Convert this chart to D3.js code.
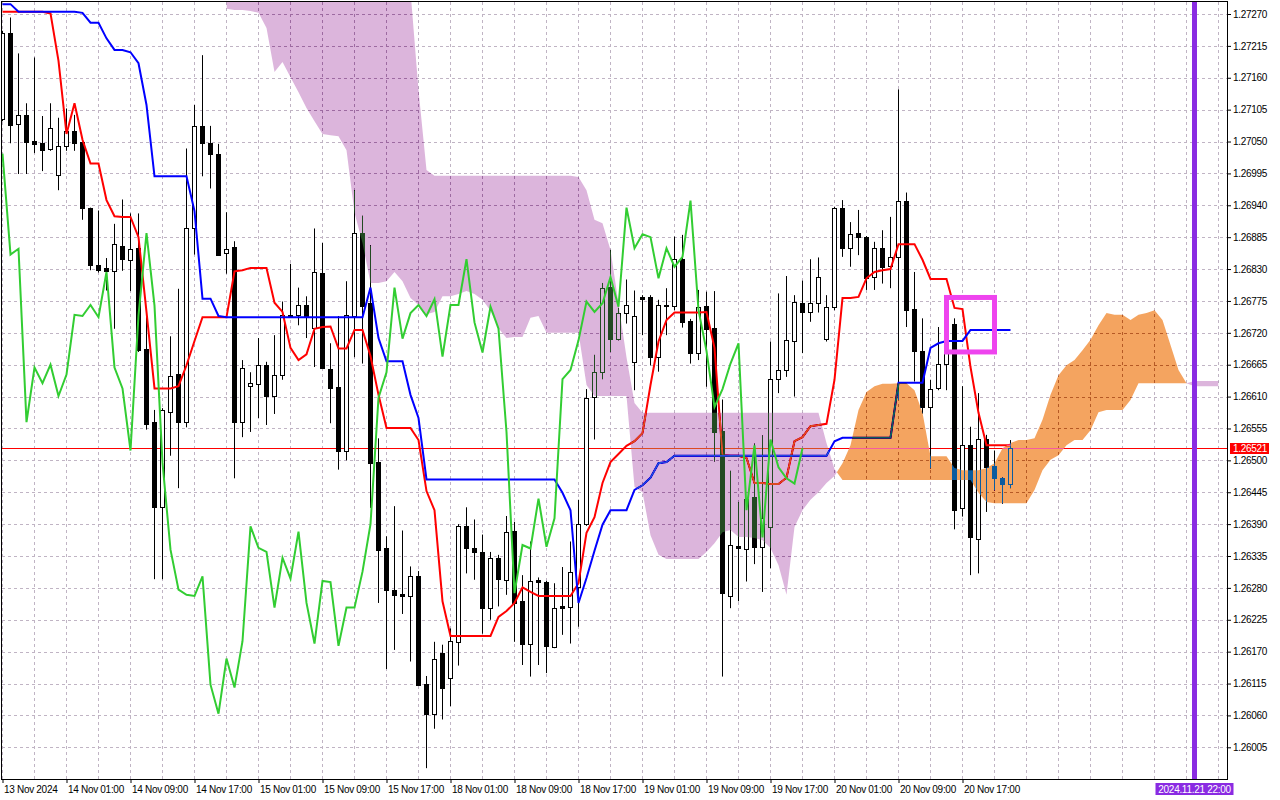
<!DOCTYPE html>
<html><head><meta charset="utf-8">
<script src="https://cdn.jsdelivr.net/npm/d3@7"></script>
<style>
html,body{margin:0;padding:0;background:#fff;overflow:hidden;}
svg{display:block;font-family:"Liberation Sans",Arial,sans-serif;}
</style></head><body>
<svg id="chart" width="1280" height="800"></svg>
<script>
// ---------- data (GBPUSD H1, Ichimoku) ----------
const xTickBars = [0,8,16,24,32,40,48,56,64,72,80,88,96,104,112,120];
const xTickLabels = ["13 Nov 2024","14 Nov 01:00","14 Nov 09:00","14 Nov 17:00","15 Nov 01:00","15 Nov 09:00","15 Nov 17:00","18 Nov 01:00","18 Nov 09:00","18 Nov 17:00","19 Nov 01:00","19 Nov 09:00","19 Nov 17:00","20 Nov 01:00","20 Nov 09:00","20 Nov 17:00"];
const yTicks = [1.27270,1.27215,1.27160,1.27105,1.27050,1.26995,1.26940,1.26885,1.26830,1.26775,1.26720,1.26665,1.26610,1.26555,1.26500,1.26445,1.26390,1.26335,1.26280,1.26225,1.26170,1.26115,1.26060,1.26005];

const open = [1.27089,1.27237,1.27080,1.27096,1.27051,1.27047,1.27037,1.26993,1.27043,1.27068,
1.27049,1.26935,1.26837,1.26831,1.26827,1.26870,1.26846,1.26867,1.26692,1.26566,
1.26419,1.26583,1.26649,1.26566,1.26900,1.27076,1.27047,1.27029,1.26857,1.26868,
1.26566,1.26629,1.26631,1.26665,1.26611,1.26648,1.26750,1.26751,1.26768,1.26728,
1.26824,1.26658,1.26626,1.26517,1.26749,1.26892,1.26772,1.26498,1.26349,1.26277,
1.26269,1.26266,1.26300,1.26115,1.26063,1.26168,1.26124,1.26187,1.26386,1.26349,
1.26342,1.26246,1.26332,1.26294,1.26378,1.26257,1.26183,1.26294,1.26291,1.26178,
1.26249,1.26247,1.26282,1.26390,1.26610,1.26652,1.26799,1.26709,1.26754,1.26669,
1.26782,1.26782,1.26679,1.26767,1.26767,1.26847,1.26740,1.26686,1.26766,1.26729,
1.26551,1.26266,1.26352,1.26347,1.26437,1.26351,1.26385,1.26641,1.26656,1.26706,
1.26772,1.26756,1.26771,1.26710,1.26765,1.26936,1.26866,1.26892,1.26885,1.26816,
1.26866,1.26835,1.26851,1.26947,1.26761,1.26689,1.26592,1.26624,1.26666,1.26736,
1.26417,1.26526,1.26365,1.26536,1.26490,1.26469,1.26460];
const high = [1.27241,1.27264,1.27202,1.27116,1.27195,1.27094,1.27116,1.27091,1.27107,1.27096,
1.27050,1.26936,1.26931,1.26849,1.26908,1.26950,1.26926,1.26926,1.26747,1.26587,
1.26590,1.26714,1.26796,1.27038,1.27113,1.27199,1.27077,1.27046,1.26928,1.26878,
1.26673,1.26652,1.26711,1.26670,1.26716,1.26774,1.26839,1.26798,1.26783,1.26900,
1.26875,1.26702,1.26749,1.26809,1.26966,1.26922,1.26871,1.26538,1.26369,1.26421,
1.26379,1.26317,1.26309,1.26128,1.26187,1.26182,1.26210,1.26390,1.26419,1.26398,
1.26372,1.26342,1.26337,1.26404,1.26394,1.26302,1.26360,1.26298,1.26292,1.26288,
1.26316,1.26360,1.26432,1.26623,1.26682,1.26806,1.26863,1.26763,1.26812,1.26793,
1.26785,1.26785,1.26777,1.26797,1.26886,1.26889,1.26744,1.26794,1.26791,1.26792,
1.26605,1.26482,1.26428,1.26435,1.26529,1.26543,1.26705,1.26788,1.26818,1.26785,
1.26810,1.26847,1.26850,1.26785,1.26937,1.26949,1.26911,1.26932,1.26887,1.26877,
1.26897,1.26920,1.27140,1.26962,1.26825,1.26745,1.26639,1.26730,1.26759,1.26745,
1.26628,1.26558,1.26616,1.26544,1.26517,1.26471,1.26535];
const low = [1.27085,1.27047,1.26994,1.26994,1.27030,1.26999,1.27034,1.26966,1.27034,1.27034,
1.26915,1.26828,1.26824,1.26793,1.26727,1.26827,1.26792,1.26687,1.26553,1.26295,
1.26295,1.26508,1.26452,1.26557,1.26855,1.26990,1.26969,1.26854,1.26822,1.26469,
1.26540,1.26549,1.26573,1.26561,1.26580,1.26639,1.26747,1.26733,1.26711,1.26661,
1.26659,1.26564,1.26484,1.26500,1.26678,1.26667,1.26418,1.26254,1.26140,1.26173,
1.26235,1.26153,1.26111,1.25969,1.26037,1.26053,1.26076,1.26146,1.26305,1.26294,
1.26201,1.26225,1.26248,1.26268,1.26187,1.26147,1.26127,1.26147,1.26133,1.26176,
1.26199,1.26184,1.26213,1.26387,1.26536,1.26640,1.26687,1.26707,1.26736,1.26621,
1.26716,1.26664,1.26653,1.26716,1.26759,1.26729,1.26667,1.26673,1.26627,1.26498,
1.26127,1.26245,1.26257,1.26291,1.26321,1.26273,1.26314,1.26616,1.26644,1.26610,
1.26685,1.26739,1.26755,1.26705,1.26759,1.26851,1.26834,1.26854,1.26794,1.26794,
1.26805,1.26797,1.26604,1.26730,1.26636,1.26581,1.26486,1.26621,1.26621,1.26381,
1.26403,1.26302,1.26305,1.26411,1.26448,1.26425,1.26452];
const close = [1.27237,1.27078,1.27096,1.27050,1.27045,1.27036,1.27073,1.27043,1.27068,1.27048,
1.26936,1.26837,1.26829,1.26826,1.26873,1.26847,1.26865,1.26691,1.26563,1.26419,
1.26587,1.26646,1.26566,1.26900,1.27076,1.27047,1.27029,1.26855,1.26865,1.26566,
1.26660,1.26633,1.26665,1.26611,1.26648,1.26751,1.26749,1.26768,1.26747,1.26825,
1.26660,1.26624,1.26517,1.26750,1.26892,1.26767,1.26496,1.26346,1.26277,1.26268,
1.26266,1.26300,1.26113,1.26063,1.26158,1.26108,1.26188,1.26386,1.26349,1.26342,
1.26246,1.26332,1.26296,1.26377,1.26254,1.26184,1.26292,1.26290,1.26180,1.26246,
1.26246,1.26308,1.26390,1.26608,1.26652,1.26798,1.26710,1.26754,1.26768,1.26749,
1.26778,1.26679,1.26768,1.26768,1.26847,1.26738,1.26686,1.26765,1.26727,1.26549,
1.26271,1.26354,1.26348,1.26434,1.26351,1.26400,1.26640,1.26656,1.26707,1.26774,
1.26756,1.26771,1.26816,1.26765,1.26936,1.26866,1.26890,1.26885,1.26814,1.26866,
1.26834,1.26851,1.26948,1.26759,1.26689,1.26592,1.26623,1.26667,1.26702,1.26414,
1.26526,1.26367,1.26536,1.26488,1.26469,1.26460,1.26521];
const tenkan = [1.27274,1.27274,1.27274,1.27274,1.27274,1.27274,1.27271,1.27189,1.27063,1.27116,
1.27053,1.27012,1.27012,1.26949,1.26921,1.26920,1.26920,1.26885,1.26756,1.26624,
1.26624,1.26624,1.26628,1.26664,1.26706,1.26747,1.26747,1.26747,1.26747,1.26826,
1.26828,1.26832,1.26832,1.26832,1.26772,1.26756,1.26694,1.26673,1.26683,1.26727,
1.26730,1.26731,1.26693,1.26693,1.26725,1.26725,1.26680,1.26613,1.26556,1.26556,
1.26556,1.26556,1.26535,1.26447,1.26414,1.26257,1.26197,1.26197,1.26197,1.26197,
1.26197,1.26197,1.26230,1.26240,1.26254,1.26281,1.26273,1.26266,1.26266,1.26266,
1.26266,1.26266,1.26288,1.26375,1.26402,1.26461,1.26497,1.26511,1.26525,1.26533,
1.26547,1.26630,1.26705,1.26742,1.26755,1.26755,1.26755,1.26755,1.26756,1.26694,
1.26509,1.26508,1.26508,1.26504,1.26461,1.26461,1.26459,1.26459,1.26470,1.26533,
1.26540,1.26559,1.26561,1.26563,1.26639,1.26780,1.26780,1.26782,1.26814,1.26825,
1.26828,1.26830,1.26873,1.26873,1.26873,1.26846,1.26813,1.26813,1.26813,1.26763,
1.26761,1.26661,1.26582,1.26526,1.26526,1.26526,1.26526];
const kijun = [1.27287,1.27287,1.27274,1.27274,1.27274,1.27274,1.27274,1.27274,1.27274,1.27274,
1.27272,1.27255,1.27255,1.27228,1.27208,1.27208,1.27204,1.27185,1.27113,1.26990,
1.26990,1.26990,1.26990,1.26990,1.26930,1.26779,1.26779,1.26749,1.26747,1.26747,
1.26747,1.26747,1.26747,1.26747,1.26747,1.26747,1.26747,1.26747,1.26747,1.26747,
1.26747,1.26747,1.26747,1.26747,1.26747,1.26747,1.26798,1.26711,1.26671,1.26671,
1.26671,1.26613,1.26573,1.26467,1.26467,1.26467,1.26467,1.26467,1.26467,1.26467,
1.26467,1.26467,1.26467,1.26467,1.26467,1.26467,1.26467,1.26467,1.26467,1.26467,
1.26444,1.26414,1.26254,1.26297,1.26344,1.26389,1.26414,1.26414,1.26414,1.26449,
1.26457,1.26470,1.26495,1.26497,1.26508,1.26508,1.26508,1.26508,1.26508,1.26508,
1.26508,1.26508,1.26508,1.26508,1.26508,1.26508,1.26508,1.26508,1.26508,1.26508,
1.26508,1.26508,1.26508,1.26508,1.26533,1.26539,1.26539,1.26539,1.26539,1.26539,
1.26539,1.26539,1.26634,1.26634,1.26634,1.26634,1.26694,1.26702,1.26706,1.26706,
1.26706,1.26725,1.26725,1.26725,1.26725,1.26725,1.26725];
// Senkou spans start at bar 28 and run 26 bars past the last candle
const cloudStartBar = 28;
const spanA = [1.27279,1.27277,1.27277,1.27275,1.27272,1.27246,1.27170,1.27187,1.27161,1.27135,
1.27108,1.27085,1.27063,1.27061,1.27059,1.27035,1.26927,1.26875,1.26806,1.26806,
1.26809,1.26825,1.26809,1.26780,1.26768,1.26752,1.26756,1.26783,1.26783,1.26787,
1.26792,1.26787,1.26777,1.26758,1.26728,1.26711,1.26713,1.26713,1.26746,1.26749,
1.26720,1.26720,1.26720,1.26720,1.26720,1.26630,1.26611,1.26611,1.26611,1.26611,
1.26611,1.26454,1.26445,1.26371,1.26337,1.26330,1.26330,1.26330,1.26330,1.26330,
1.26342,1.26357,1.26376,1.26380,1.26368,1.26368,1.26366,1.26362,1.26349,1.26319,
1.26268,1.26385,1.26414,1.26432,1.26445,1.26461,1.26473,1.26495,1.26526,1.26587,
1.26618,1.26628,1.26632,1.26632,1.26633,1.26633,1.26621,1.26582,1.26507,1.26507,
1.26507,1.26487,1.26483,1.26483,1.26483,1.26487,1.26495,1.26521,1.26530,1.26535,
1.26535,1.26538,1.26570,1.26613,1.26647,1.26664,1.26673,1.26690,1.26708,1.26733,
1.26754,1.26751,1.26751,1.26742,1.26751,1.26754,1.26759,1.26742,1.26699,1.26656,
1.26633,1.26628,1.26628,1.26628,1.26628];
const spanB = [1.27310,1.27310,1.27310,1.27310,1.27310,1.27310,1.27310,1.27310,1.27310,1.27310,
1.27310,1.27310,1.27310,1.27310,1.27310,1.27310,1.27310,1.27310,1.27310,1.27310,
1.27310,1.27310,1.27310,1.27310,1.27139,1.27001,1.26991,1.26991,1.26991,1.26991,
1.26991,1.26991,1.26991,1.26991,1.26991,1.26991,1.26991,1.26991,1.26991,1.26991,
1.26991,1.26991,1.26991,1.26991,1.26989,1.26966,1.26915,1.26909,1.26863,1.26771,
1.26678,1.26599,1.26582,1.26582,1.26582,1.26582,1.26582,1.26582,1.26582,1.26582,
1.26582,1.26582,1.26582,1.26582,1.26582,1.26582,1.26582,1.26582,1.26582,1.26582,
1.26582,1.26582,1.26582,1.26582,1.26582,1.26530,1.26485,1.26466,1.26466,1.26466,
1.26466,1.26466,1.26466,1.26466,1.26466,1.26466,1.26466,1.26466,1.26466,1.26466,
1.26466,1.26466,1.26466,1.26466,1.26444,1.26428,1.26426,1.26426,1.26426,1.26426,
1.26426,1.26449,1.26483,1.26501,1.26509,1.26526,1.26535,1.26535,1.26552,1.26583,
1.26587,1.26587,1.26587,1.26604,1.26633,1.26633,1.26633,1.26633,1.26633,1.26633,
1.26633,1.26637,1.26637,1.26637,1.26637];
const chikouShift = 26;                 // lagging span = close plotted 26 bars back
const chikou = close.slice(chikouShift);
const bidPrice = 1.26521;
const markerBar = 149, markerLabel = "2024.11.21 22:00";
const boxBars = [118, 124], boxPrices = [1.26687, 1.26781];

// ---------- drawing ----------
const svg = d3.select("#chart");
const P = {l:2, t:2, r:1227, b:779};
const x = d3.scaleLinear().domain([0, 152]).range([2.5, 1218.5]);
const y = d3.scaleLinear().domain([1.26005, 1.27270]).range([747.3, 14]);
const font = '"Liberation Sans", Arial, sans-serif';

svg.append("rect").attr("width",1280).attr("height",800).attr("fill","#fff");
const defs = svg.append("defs");
defs.append("clipPath").attr("id","plotClip").append("rect")
  .attr("x",P.l).attr("y",P.t).attr("width",P.r-P.l).attr("height",P.b-P.t);

const plot = svg.append("g").attr("clip-path","url(#plotClip)");
// opaque backdrop inside the group so the kumo blend has something to invert
plot.append("rect").attr("x",P.l).attr("y",P.t).attr("width",P.r-P.l).attr("height",P.b-P.t).attr("fill","#fff");

// grid
const grid = plot.append("g").attr("stroke","#c0b4c4").attr("stroke-width",1).attr("stroke-dasharray","3,3");
yTicks.forEach(p => {
  const yy = Math.round(y(p)) + 0.5;
  grid.append("line").attr("x1",P.l).attr("x2",P.r).attr("y1",yy).attr("y2",yy);
});
d3.range(0, 153, 4).forEach(b => {
  const xx = x(b);
  grid.append("line").attr("x1",xx).attr("x2",xx).attr("y1",P.t).attr("y2",P.b);
});

// bid line
const by = Math.round(y(bidPrice)) + 0.5;
plot.append("line").attr("x1",P.l).attr("x2",P.r).attr("y1",by).attr("y2",by)
  .attr("stroke","#ff0000").attr("stroke-width",1);

// candles
const cg = plot.append("g");
open.forEach((o, i) => {
  const c = close[i], xi = x(i);
  cg.append("line").attr("x1",xi).attr("x2",xi)
    .attr("y1",y(high[i])).attr("y2",y(low[i])).attr("stroke","#000").attr("stroke-width",1);
  const yT = Math.round(y(Math.max(o,c))) + 0.5, yB = Math.round(y(Math.min(o,c))) + 0.5;
  if (yB - yT < 1) {
    cg.append("line").attr("x1",xi-2.5).attr("x2",xi+2.5).attr("y1",yT).attr("y2",yT)
      .attr("stroke","#000").attr("stroke-width",1);
  } else {
    cg.append("rect").attr("x",xi-2).attr("y",yT).attr("width",4).attr("height",yB-yT)
      .attr("fill", c > o ? "#fff" : "#000").attr("stroke","#000").attr("stroke-width",1);
  }
});

// tenkan & kijun
const line = d3.line().x((d,i)=>x(i)).y(d=>y(d));
plot.append("path").attr("d",line(tenkan)).attr("fill","none").attr("stroke","#ff0000").attr("stroke-width",2);
plot.append("path").attr("d",line(kijun)).attr("fill","none").attr("stroke","#0000ff").attr("stroke-width",2);

// kumo (drawn with inversion like the terminal)
const cb = d3.range(cloudStartBar, cloudStartBar + spanA.length);
const aV = i => spanA[i - cloudStartBar], bV = i => spanB[i - cloudStartBar];
const areaAbove = f => d3.area().x(i=>x(i)).y0(-200).y1(i=>y(f(i)));
const areaBelow = f => d3.area().x(i=>x(i)).y0(1000).y1(i=>y(f(i)));
defs.append("clipPath").attr("id","belowB").append("path").attr("d", areaBelow(bV)(cb));
defs.append("clipPath").attr("id","belowA").append("path").attr("d", areaBelow(aV)(cb));
const kumo = plot.append("g").style("mix-blend-mode","difference");
kumo.append("path").attr("clip-path","url(#belowB)")
  .attr("d", areaAbove(aV)(cb)).attr("fill","#234a23");   // thistle (B above A)
kumo.append("path").attr("clip-path","url(#belowA)")
  .attr("d", areaAbove(bV)(cb)).attr("fill","#0b5b9f");   // sandy brown (A above B)

// chikou
plot.append("path").attr("d",line(chikou)).attr("fill","none").attr("stroke","#32cd32").attr("stroke-width",2);

// vertical marker line
plot.append("line").attr("x1",x(markerBar)).attr("x2",x(markerBar)).attr("y1",P.t).attr("y2",P.b)
  .attr("stroke","#8a2be2").attr("stroke-width",5);

// magenta box
plot.append("rect").attr("x",x(boxBars[0])).attr("y",y(boxPrices[1]))
  .attr("width",x(boxBars[1])-x(boxBars[0])).attr("height",y(boxPrices[0])-y(boxPrices[1]))
  .attr("fill","none").attr("stroke","#ee44ee").attr("stroke-width",5);

// frame
svg.append("rect").attr("x",P.l-0.5).attr("y",P.t-0.5).attr("width",P.r-P.l+1).attr("height",P.b-P.t+1)
  .attr("fill","none").attr("stroke","#000").attr("stroke-width",1);

// y axis
const gy = svg.append("g").attr("transform",`translate(${P.r},0)`)
  .call(d3.axisRight(y).tickValues(yTicks).tickSize(4).tickPadding(2).tickFormat(d=>d.toFixed(5)));
gy.select(".domain").remove();
gy.selectAll("text").attr("font-size",10).attr("font-family",font).attr("fill","#000").attr("letter-spacing","-0.3");

// x axis
const gx = svg.append("g").attr("transform",`translate(0,${P.b})`)
  .call(d3.axisBottom(x).tickValues(xTickBars).tickSize(4).tickPadding(3).tickFormat((d,k)=>xTickLabels[k]));
gx.select(".domain").remove();
gx.selectAll("text").attr("font-size",10).attr("font-family",font).attr("fill","#000")
  .attr("text-anchor","start").attr("dx",1).attr("letter-spacing","-0.3");

// bid price label
svg.append("rect").attr("x",1230).attr("y",by-5.5).attr("width",39).attr("height",11).attr("fill","#ff0000");
svg.append("text").attr("x",1233).attr("y",by+3.5).attr("font-size",10).attr("font-family",font)
  .attr("fill","#fff").attr("letter-spacing","-0.3").text(bidPrice.toFixed(5));

// time marker label
const mx = x(markerBar);
svg.append("rect").attr("x",mx-39).attr("y",783).attr("width",78).attr("height",12).attr("fill","#8a2be2");
svg.append("text").attr("x",mx).attr("y",792.5).attr("text-anchor","middle").attr("font-size",10)
  .attr("font-family",font).attr("fill","#fff").attr("letter-spacing","-0.3").text(markerLabel);
</script>
</body></html>
